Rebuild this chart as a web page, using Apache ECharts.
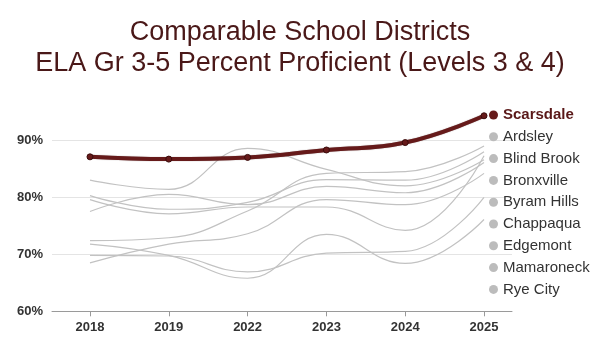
<!DOCTYPE html>
<html>
<head>
<meta charset="utf-8">
<script src="https://cdn.jsdelivr.net/npm/echarts@6/dist/echarts.min.js"></script>
<style>
html,body{margin:0;padding:0;background:#fff;}
#chart{width:600px;height:355px;}
</style>
</head>
<body>
<div id="chart"></div>
<script>
// ---- data ----
const years = ['2018', '2019', '2022', '2023', '2024', '2025'];
const scarsdale = [87.1, 86.7, 87.0, 88.3, 89.6, 94.3];
const ardsley    = [83.0, 81.4, 88.6, 84.9, 82.0, 86.6];
const blindBrook = [80.3, 77.9, 79.1, 83.1, 83.0, 88.0];
const bronxville = [77.5, 80.5, 78.7, 81.9, 80.8, 86.1];
const byramHills = [79.6, 77.1, 78.3, 78.3, 74.2, 87.3];
const chappaqua  = [72.4, 72.9, 77.6, 84.2, 84.5, 89.0];
const edgemont   = [68.5, 71.8, 73.6, 79.6, 78.7, 84.2];
const mamaroneck = [71.8, 69.8, 65.8, 73.5, 68.4, 76.1];
const ryeCity    = [69.8, 69.7, 66.9, 70.2, 70.5, 80.0];
const yTicks = [60, 70, 80, 90];

const others = [
  ['Ardsley', ardsley], ['Blind Brook', blindBrook], ['Bronxville', bronxville],
  ['Byram Hills', byramHills], ['Chappaqua', chappaqua], ['Edgemont', edgemont],
  ['Mamaroneck', mamaroneck], ['Rye City', ryeCity]
];

const toXY = arr => arr.map((v, i) => [i, v]);
const maroon = '#661a1a';
const gray = '#c2c2c2';

const series = others.map(([name, vals]) => ({
  name, type: 'line', data: toXY(vals), smooth: 0.45,
  showSymbol: false, symbol: 'circle',
  lineStyle: { color: gray, width: 1.2 },
  itemStyle: { color: '#bcbcbc' },
  z: 2, silent: true
}));
series.push({
  name: 'Scarsdale', type: 'line', data: toXY(scarsdale), smooth: 0.45,
  symbol: 'circle', symbolSize: 6, showSymbol: true,
  lineStyle: { color: maroon, width: 4, shadowColor: 'rgba(40,0,0,0.5)', shadowBlur: 1 },
  itemStyle: { color: maroon, borderColor: '#3a0b0b', borderWidth: 1 },
  z: 5, silent: true
});

const legendData = [{ name: 'Scarsdale', textStyle: { fontWeight: 'bold', color: '#5a1818' } }]
  .concat(others.map(([name]) => ({ name, textStyle: { color: '#333' } })));

const chart = echarts.init(document.getElementById('chart'), null, { renderer: 'canvas' });
chart.setOption({
  animation: false,
  backgroundColor: '#fff',
  title: {
    text: 'Comparable School Districts\nELA Gr 3-5 Percent Proficient (Levels 3 & 4)',
    left: 'center', top: 12,
    textStyle: { fontFamily: 'Liberation Sans', fontSize: 27, fontWeight: 'normal', color: '#4a1818', lineHeight: 31 }
  },
  legend: {
    orient: 'vertical', left: 489, top: 107.5, itemGap: 6.8, padding: 0,
    icon: 'circle', itemWidth: 9, itemHeight: 9, selectedMode: false,
    itemStyle: { borderWidth: 0 },
    textStyle: { fontFamily: 'Liberation Sans', fontSize: 15, lineHeight: 15, color: '#333' },
    data: legendData
  },
  grid: { left: 52, right: 88, top: 83.3, bottom: 43.7 },
  xAxis: {
    type: 'value', min: -0.482, max: 5.355,
    axisLine: { show: true, lineStyle: { color: '#9a9a9a', width: 1 } },
    axisTick: { show: true, customValues: [0, 1, 2, 3, 4, 5], length: 5, lineStyle: { color: '#9a9a9a' } },
    axisLabel: {
      customValues: [0, 1, 2, 3, 4, 5], margin: 10,
      formatter: v => years[Math.round(v)],
      fontFamily: 'Liberation Sans', fontSize: 13, fontWeight: 'bold', color: '#333'
    },
    splitLine: { show: false }
  },
  yAxis: {
    type: 'value', min: 60, max: 100, interval: 10,
    axisLine: { show: false }, axisTick: { show: false },
    axisLabel: {
      margin: 9,
      formatter: v => (yTicks.indexOf(v) >= 0 ? v + '%' : ''),
      fontFamily: 'Liberation Sans', fontSize: 13, fontWeight: 'bold', color: '#333'
    },
    splitLine: { show: true, lineStyle: { color: ['#e4e4e4', '#e4e4e4', '#e4e4e4', '#e4e4e4', 'rgba(0,0,0,0)'], width: 1 } }
  },
  series
});
</script>
</body>
</html>
